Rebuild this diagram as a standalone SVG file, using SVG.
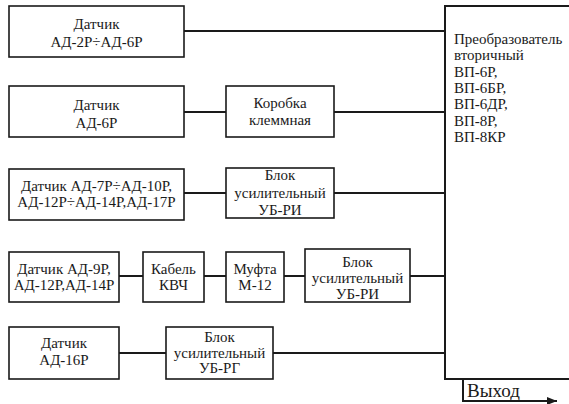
<svg xmlns="http://www.w3.org/2000/svg" width="569" height="404" viewBox="0 0 569 404">
  <style>
    .box { fill: #fff; stroke: #1a1a1a; stroke-width: 1.6; }
    .wire { stroke: #1a1a1a; stroke-width: 2; fill: none; }
    text { font-family: "Liberation Serif", "Tinos", "DejaVu Serif", "Noto Serif", "Times New Roman", serif; font-size: 15px; fill: #1a1a1a; }
    .c { text-anchor: middle; }
    .out { font-size: 19px; }
  </style>
  <defs>
    <marker id="arrow" markerWidth="10" markerHeight="8" refX="10" refY="4" orient="auto" markerUnits="userSpaceOnUse">
      <path d="M0,0 L10,4 L0,8 Z" fill="#1a1a1a"/>
    </marker>
  </defs>

  <!-- connectors -->
  <g id="connectors">
    <line class="wire" x1="184" y1="31" x2="445" y2="31"/>
    <line class="wire" x1="184" y1="112" x2="226" y2="112"/>
    <line class="wire" x1="334" y1="112" x2="445" y2="112"/>
    <line class="wire" x1="184" y1="193" x2="226" y2="193"/>
    <line class="wire" x1="334" y1="193" x2="445" y2="193"/>
    <line class="wire" x1="119" y1="276" x2="143" y2="276"/>
    <line class="wire" x1="204" y1="276" x2="226" y2="276"/>
    <line class="wire" x1="284" y1="276" x2="305" y2="276"/>
    <line class="wire" x1="410" y1="276" x2="445" y2="276"/>
    <line class="wire" x1="119" y1="353" x2="166" y2="353"/>
    <line class="wire" x1="273" y1="353" x2="445" y2="353"/>
    <polyline class="wire" points="463,379 463,401 557,401" marker-end="url(#arrow)"/>
  </g>

  <!-- sensor row 1 -->
  <g id="sensor1">
    <rect class="box" x="9" y="6" width="175" height="51"/>
    <text class="c" x="96.5" y="28.5">Датчик</text>
    <text class="c" x="96.5" y="46.5">АД-2Р÷АД-6Р</text>
  </g>

  <!-- sensor row 2 -->
  <g id="sensor2">
    <rect class="box" x="9" y="86" width="175" height="51"/>
    <text class="c" x="96.5" y="110">Датчик</text>
    <text class="c" x="96.5" y="127.5">АД-6Р</text>
  </g>
  <g id="terminal-box">
    <rect class="box" x="226" y="86" width="108" height="51"/>
    <text class="c" x="280" y="108">Коробка</text>
    <text class="c" x="280" y="125">клеммная</text>
  </g>

  <!-- sensor row 3 -->
  <g id="sensor3">
    <rect class="box" x="9" y="169" width="175" height="51"/>
    <text class="c" x="96.5" y="190.5">Датчик АД-7Р÷АД-10Р,</text>
    <text class="c" x="96.5" y="206.5">АД-12Р÷АД-14Р,АД-17Р</text>
  </g>
  <g id="amp-ri-1">
    <rect class="box" x="226" y="168" width="108" height="50"/>
    <text class="c" x="280" y="180">Блок</text>
    <text class="c" x="280" y="198">усилительный</text>
    <text class="c" x="280" y="215">УБ-РИ</text>
  </g>

  <!-- sensor row 4 -->
  <g id="sensor4">
    <rect class="box" x="9" y="252" width="110" height="50"/>
    <text class="c" x="64" y="274">Датчик АД-9Р,</text>
    <text class="c" x="64" y="290">АД-12Р,АД-14Р</text>
  </g>
  <g id="cable">
    <rect class="box" x="143" y="252" width="61" height="50"/>
    <text class="c" x="173.5" y="273.5">Кабель</text>
    <text class="c" x="173.5" y="289.5">КВЧ</text>
  </g>
  <g id="coupling">
    <rect class="box" x="226" y="252" width="58" height="50"/>
    <text class="c" x="255" y="273.5">Муфта</text>
    <text class="c" x="255" y="289.5">М-12</text>
  </g>
  <g id="amp-ri-2">
    <rect class="box" x="305" y="249" width="105" height="53"/>
    <text class="c" x="357.5" y="267">Блок</text>
    <text class="c" x="357.5" y="283">усилительный</text>
    <text class="c" x="357.5" y="298.5">УБ-РИ</text>
  </g>

  <!-- sensor row 5 -->
  <g id="sensor5">
    <rect class="box" x="9" y="327" width="110" height="52"/>
    <text class="c" x="64" y="348">Датчик</text>
    <text class="c" x="64" y="365">АД-16Р</text>
  </g>
  <g id="amp-rg">
    <rect class="box" x="166" y="327" width="107" height="52"/>
    <text class="c" x="219.5" y="342">Блок</text>
    <text class="c" x="219.5" y="357.5">усилительный</text>
    <text class="c" x="219.5" y="373">УБ-РГ</text>
  </g>

  <!-- secondary converter -->
  <g id="converter">
    <path class="wire" d="M572,6 H445 V379 H572"/>
    <text x="454" y="44">Преобразователь</text>
    <text x="454" y="60.3">вторичный</text>
    <text x="454" y="76.6">ВП-6Р,</text>
    <text x="454" y="92.9">ВП-6БР,</text>
    <text x="454" y="109.2">ВП-6ДР,</text>
    <text x="454" y="125.5">ВП-8Р,</text>
    <text x="454" y="141.8">ВП-8КР</text>
  </g>

  <g id="output">
    <text class="out" x="467" y="397">Выход</text>
  </g>
</svg>
